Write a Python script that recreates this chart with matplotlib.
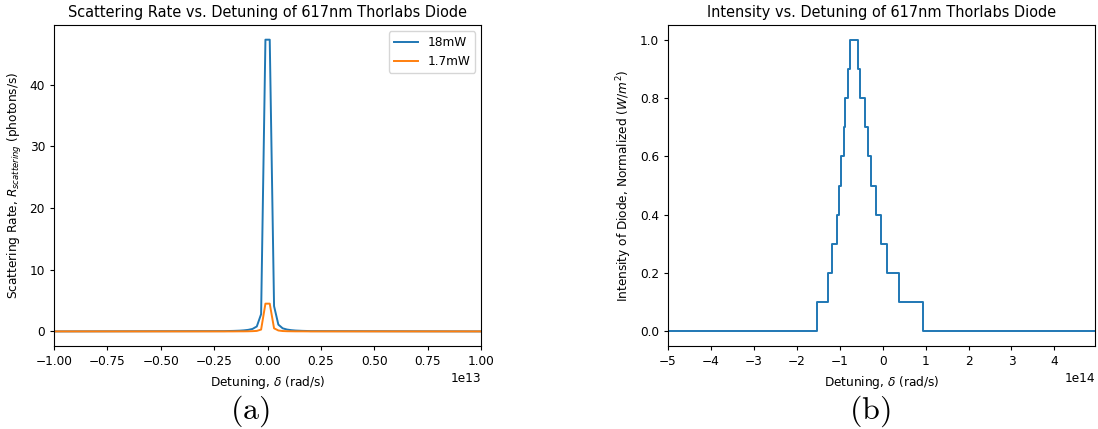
import matplotlib
matplotlib.use("Agg")
import matplotlib.pyplot as plt
import numpy as np

plt.rcParams['mathtext.fontset'] = 'dejavusans'
plt.rcParams['font.size'] = 8.7
plt.rcParams['lines.linewidth'] = 1.4
plt.rcParams['xtick.major.size'] = 3.0
plt.rcParams['ytick.major.size'] = 3.0

# scattering rate samples (detuning in rad/s)
det_a = [-1.0e13, -2.02e12, -1.62e12, -1.31e12, -1.11e12, -9.09e11, -7.07e11, -5.05e11,
         -3.03e11, -1.01e11, 1.01e11, 3.03e11, 5.05e11, 7.07e11, 9.09e11, 1.11e12,
         1.31e12, 1.62e12, 2.02e12, 1.0e13]
rate_18mw = [0.0, 0.05, 0.08, 0.12, 0.17, 0.25, 0.4, 0.8,
             2.8, 47.3, 47.3, 4.1, 1.1, 0.5, 0.3, 0.2,
             0.14, 0.09, 0.05, 0.0]
rate_17mw = [0.0, 0.0, 0.0, 0.01, 0.01, 0.02, 0.04, 0.08,
             0.3, 4.5, 4.5, 0.5, 0.15, 0.06, 0.03, 0.02,
             0.01, 0.01, 0.0, 0.0]

# diode intensity steps (edges in 1e14 rad/s)
step_edges = [-5.0, -1.54, -1.27, -1.17, -1.07, -1.01, -0.96, -0.90, -0.87, -0.81, -0.76,
              -0.58, -0.52, -0.41, -0.34, -0.26, -0.16, -0.05, 0.11, 0.37, 0.94, 4.95]
step_levels = [0.0, 0.1, 0.2, 0.3, 0.4, 0.5, 0.6, 0.7, 0.8, 0.9, 1.0,
               0.9, 0.8, 0.7, 0.6, 0.5, 0.4, 0.3, 0.2, 0.1, 0.0]

fig = plt.figure(figsize=(10.98, 4.29), dpi=100)
ax1 = fig.add_axes([0.0492, 0.1935, 0.389, 0.748])
ax2 = fig.add_axes([0.6084, 0.1935, 0.389, 0.748])

ax1.plot(det_a, rate_18mw, label="18mW")
ax1.plot(det_a, rate_17mw, label="1.7mW")
ax1.set_xlim(-1e13, 1e13)
ax1.set_title("Scattering Rate vs. Detuning of 617nm Thorlabs Diode")
ax1.set_xlabel(r"Detuning, $\delta$ (rad/s)")
ax1.set_ylabel(r"Scattering Rate, $R_{scattering}$ (photons/s)")
ax1.legend(loc="upper right")

edges = np.array(step_edges) * 1e14
ys = np.append(step_levels, step_levels[-1])
ax2.step(edges, ys, where="post")
ax2.set_xlim(edges[0], edges[-1])
ax2.set_xticks(np.arange(-5, 5) * 1e14)
ax2.set_title("Intensity vs. Detuning of 617nm Thorlabs Diode")
ax2.set_xlabel(r"Detuning, $\delta$ (rad/s)")
ax2.set_ylabel(r"Intensity of Diode, Normalized ($W/m^2$)")

fig.text(0.2277, 0.042, r"$\mathrm{(a)}$", ha="center", va="center", fontsize=23,
         math_fontfamily="cm")
fig.text(0.7925, 0.042, r"$\mathrm{(b)}$", ha="center", va="center", fontsize=23,
         math_fontfamily="cm")

fig.savefig("out.png", dpi=100)
